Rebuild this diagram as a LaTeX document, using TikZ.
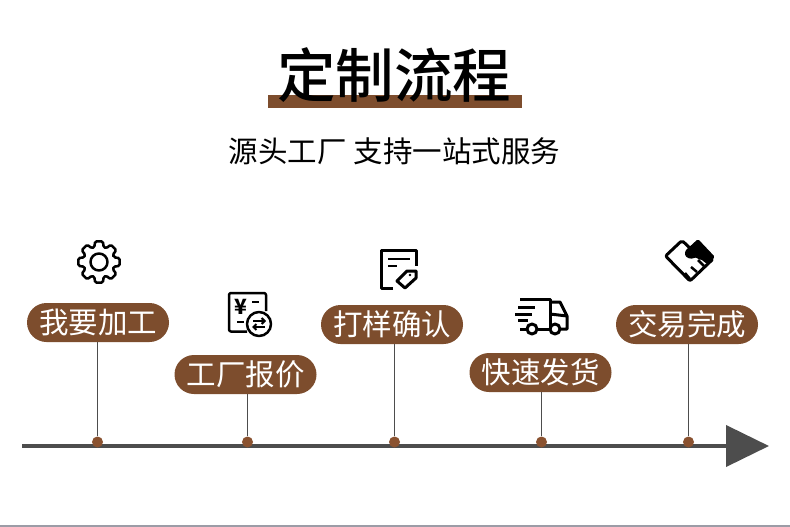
\documentclass[tikz,border=0pt]{standalone}
\usepackage{fontspec}
\setmainfont{Noto Sans CJK SC}
\newfontfamily\titlefont{Noto Sans CJK SC Medium}
\usepackage{xcolor}
\usetikzlibrary{arrows.meta, positioning, calc}
\definecolor{flowbrown}{HTML}{7D4D2D}
\definecolor{flowdot}{HTML}{8A5230}
\definecolor{flowgray}{HTML}{4D4D4D}
\definecolor{flowedge}{HTML}{9C9CA6}

\begin{document}
\begin{tikzpicture}[
    x=1pt, y=-1pt,
    pill/.style={fill=flowbrown, text=white, rounded corners=19.5pt, minimum width=142pt, minimum height=39pt, inner sep=0pt, font=\fontsize{29.5}{29.5}\selectfont},
    dot/.style={circle, fill=flowdot, minimum size=11pt, inner sep=0pt},
    stem/.style={draw=flowgray, line width=0.8pt},
    icon/.style={draw=black, line width=2.5pt, line join=round},
    iconthin/.style={draw=black, line width=2pt}
]
    \path[fill=white, use as bounding box] (0,0) rectangle (790,527);
    \fill[flowedge] (0,525) rectangle (790,527);

    \node[fill=flowbrown, minimum width=254pt, minimum height=13pt, inner sep=0pt] (titlebar) at (395,101.5) {};
    \node[font=\fontsize{58.5}{58.5}\titlefont\selectfont, inner sep=0pt] (title) at (394,75) {定制流程};
    \node[font=\fontsize{29.5}{29.5}\selectfont, inner sep=0pt] (subtitle) at (394.5,151) {源头工厂 支持一站式服务};

    \coordinate (axisstart) at (22,446);
    \coordinate (axisend) at (769,446);
    \draw[flowgray, line width=4pt, -{Triangle[length=43pt, width=41pt]}] (axisstart) -- (axisend);

    \node[pill] (pill1) at (98,322.5) {我要加工};
    \node[pill] (pill2) at (245.5,374.5) {工厂报价};
    \node[pill] (pill3) at (392,324.5) {打样确认};
    \node[pill] (pill4) at (540.5,372.5) {快速发货};
    \node[pill] (pill5) at (687,324.5) {交易完成};

    \node[dot] (dot1) at (97.5,442) {};
    \node[dot] (dot2) at (247.5,442) {};
    \node[dot] (dot3) at (394.5,442) {};
    \node[dot] (dot4) at (541.5,442) {};
    \node[dot] (dot5) at (688.5,442) {};

    \draw[stem] (pill1.south -| dot1) -- (dot1);
    \draw[stem] (pill2.south -| dot2) -- (dot2);
    \draw[stem] (pill3.south -| dot3) -- (dot3);
    \draw[stem] (pill4.south -| dot4) -- (dot4);
    \draw[stem] (pill5.south -| dot5) -- (dot5);

    \begin{scope}[shift={(99,262)}]
        \draw[icon, rounded corners=1.5pt] (-17:15.5) foreach \a in {0,45,...,315} {-- (\a-17:15.5) -- (\a-11:21) -- (\a+11:21) -- (\a+17:15.5)} -- cycle;
        \draw[icon] (0,0) circle (8.5);
    \end{scope}

    \draw[icon, rounded corners=2pt] (247,331.5) -- (229,331.5) -- (229,293) -- (266,293) -- (266,311);
    \draw[icon] (259,324) circle (12);
    \node[font=\fontsize{21}{21}\bfseries\selectfont, inner sep=0pt] (yen) at (241,307) {¥};
    \draw[iconthin] (252,302) -- (259,302);
    \draw[iconthin] (237,322) -- (244,322);
    \draw[iconthin, -{Straight Barb[length=3pt, width=6pt]}] (253,321) -- (266,321);
    \draw[iconthin, {Straight Barb[length=3pt, width=6pt]}-] (252,327) -- (265,327);

    \draw[icon, line width=3pt] (393,288) -- (381,288) -- (381,250) -- (416,250) -- (416,266);
    \draw[icon] (388,259) -- (410,259);
    \draw[icon] (388,266) -- (397,266);
    \draw[icon, line width=3pt] (416,271) -- (407,271) -- (397,281) -- (405,288) -- (416,278) -- cycle;
    \fill (410,275) circle (1.3);

    \draw[icon, line width=3pt] (520,299) -- (550,299) -- (550,329);
    \draw[icon, line width=3pt] (550,302) -- (560,302) -- (567,316) -- (567,329) -- (561,329);
    \draw[icon, line width=3pt] (550,314) -- (567,316);
    \draw[icon, line width=3pt] (538,329) -- (550,329);
    \draw[icon, line width=3pt] (520,329) -- (527,329);
    \draw[icon, line width=3pt] (532,329) circle (5);
    \draw[icon, line width=3pt] (555,329) circle (5);
    \draw[icon, line width=3pt] (518,307) -- (535,307);
    \draw[icon, line width=3pt] (515,314) -- (532,314);
    \draw[icon, line width=3pt] (518,320) -- (528,320);

    \draw[icon, line width=3pt, rounded corners=2pt] (665.5,256) -- (682,240.5) -- (693,251) -- (698,258) -- (713,259) -- (690,281) -- cycle;
    \fill[rounded corners=1.5pt] (685,251) -- (698,239) -- (715,257) -- (707,264) -- (698,257) -- (690,259) -- (685,256) -- cycle;
    \draw[icon] (690,279) -- (685,273);
    \draw[icon] (697,272) -- (691,267);
    \draw[icon] (704,266) -- (698,260);
\end{tikzpicture}
\end{document}
